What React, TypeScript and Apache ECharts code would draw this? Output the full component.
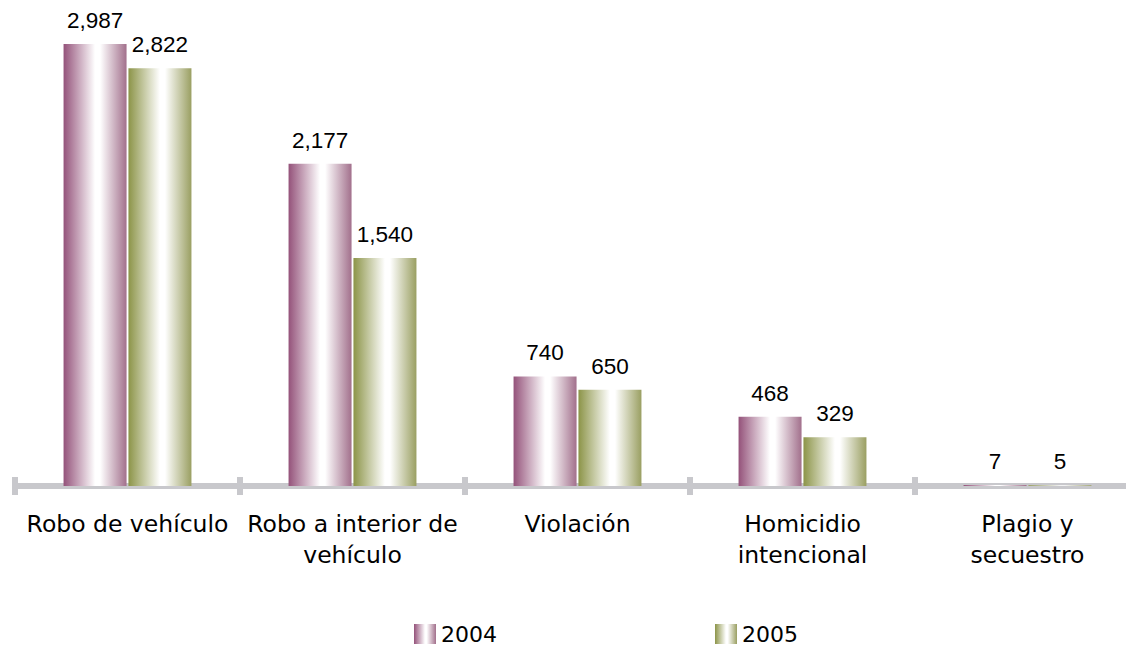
import React, { useEffect, useRef } from "react";
import * as echarts from "echarts";

const categories = [
  "Robo de vehículo",
  "Robo a interior de\nvehículo",
  "Violación",
  "Homicidio\nintencional",
  "Plagio y\nsecuestro",
];
const seriesNames = ["2004", "2005"];
const values2004 = [2987, 2177, 740, 468, 7];
const values2005 = [2822, 1540, 650, 329, 5];

const grad = (dark: string, right: string) =>
  new echarts.graphic.LinearGradient(0, 0, 1, 0, [
    { offset: 0, color: dark },
    { offset: 0.5, color: "#ffffff" },
    { offset: 0.58, color: "#ffffff" },
    { offset: 1, color: right },
  ]);

export default function App() {
  const ref = useRef<HTMLDivElement>(null);
  useEffect(() => {
    const chart = echarts.init(ref.current!, null, { renderer: "svg" });
    const axisColor = "#c8c8cc";
    const gridCfg = {
      left: 15,
      top: 42,
      width: 1125,
      height: 444,
      containLabel: false,
      outerBoundsMode: "none",
    };
    const valLabel = {
      show: true,
      position: "top",
      distance: 12,
      color: "#000",
      fontFamily: "Liberation Sans, Arial, sans-serif",
      fontSize: 22.5,
      formatter: (p: any) => Number(p.value).toLocaleString("en-US"),
    };
    chart.setOption({
      animation: false,
      backgroundColor: "#ffffff",
      grid: [gridCfg, gridCfg],
      legend: {
        left: 414,
        top: 623,
        padding: 0,
        itemWidth: 22,
        itemHeight: 20,
        itemGap: 218,
        icon: "rect",
        data: seriesNames,
        textStyle: {
          fontFamily: "DejaVu Sans, Verdana, sans-serif",
          fontSize: 22,
          lineHeight: 20,
          color: "#000",
        },
      },
      xAxis: [
        {
          type: "category",
          gridIndex: 0,
          data: categories,
          offset: 3,
          axisLine: { show: true, lineStyle: { color: axisColor, width: 6 } },
          axisTick: { show: true, inside: false, length: 9, lineStyle: { color: axisColor, width: 6 } },
          axisLabel: {
            margin: 19,
            color: "#000",
            fontFamily: "DejaVu Sans, Verdana, sans-serif",
            fontSize: 23.5,
            lineHeight: 31,
            interval: 0,
          },
        },
        {
          type: "category",
          gridIndex: 1,
          data: categories,
          offset: 3,
          axisLine: { show: false },
          axisTick: { show: true, inside: true, length: 9, lineStyle: { color: axisColor, width: 6 } },
          axisLabel: { show: false },
        },
      ],
      yAxis: [
        { type: "value", gridIndex: 0, min: 0, max: 3000, show: false, splitLine: { show: false } },
        { type: "value", gridIndex: 1, min: 0, max: 3000, show: false, splitLine: { show: false } },
      ],
      series: [
        {
          name: seriesNames[0],
          type: "bar",
          xAxisIndex: 0,
          yAxisIndex: 0,
          data: values2004,
          barWidth: 63,
          barGap: "3%",
          itemStyle: { color: grad("#94527a", "#a2708c") },
          label: valLabel,
        },
        {
          name: seriesNames[1],
          type: "bar",
          xAxisIndex: 0,
          yAxisIndex: 0,
          data: values2005,
          barWidth: 63,
          barGap: "3%",
          itemStyle: { color: grad("#8c9448", "#9a9f62") },
          label: valLabel,
        },
      ],
    });
    return () => chart.dispose();
  }, []);
  return (
    <div
      ref={ref}
      style={{ position: "fixed", left: 0, top: 0, width: 1126, height: 647 }}
    />
  );
}
